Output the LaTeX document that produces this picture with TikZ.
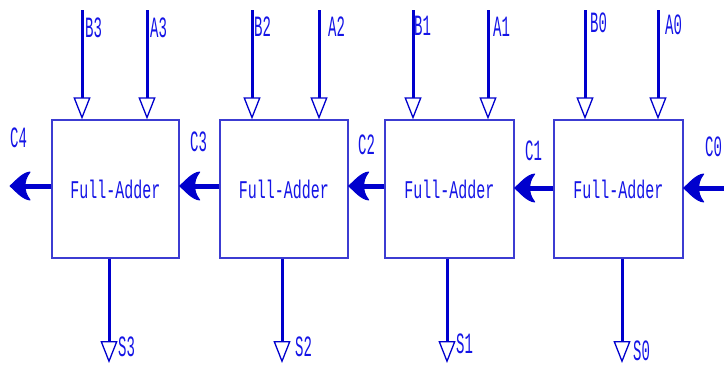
\documentclass[tikz,border=0pt]{standalone}
\usepackage{fontspec}
\newfontfamily\fafont{Liberation Mono}
\usetikzlibrary{arrows.meta}
\definecolor{linecol}{RGB}{0,0,205}
\definecolor{boxcol}{RGB}{60,60,210}
\definecolor{txtcol}{RGB}{20,20,230}
\tikzset{
  fabox/.style={draw=boxcol, line width=1.3pt, minimum width=127pt, minimum height=138pt, inner sep=0pt, text=txtcol, font=\fafont\fontsize{15}{15}\selectfont},
  inarrow/.style={draw=linecol, line width=3pt, -{Triangle[open, length=22pt, width=17pt, line width=1.3pt]}},
  carry/.style={draw=linecol, line width=5pt, shorten >=12pt},
  carryhead/.pic={\filldraw[linecol, line width=1pt, line join=round]
     (0,0) .. controls (6,-5) and (12,-13) .. (20,-14)
     .. controls (16,-9) and (15,-4) .. (15,0)
     .. controls (15,4) and (16,9) .. (20,14)
     .. controls (12,13) and (6,5) .. (0,0) -- cycle;},
  lbl/.style={text=txtcol, inner sep=0pt, font=\fafont\fontsize{14}{14}\selectfont},
}
\newcommand{\tall}[1]{\scalebox{1}[2.1]{#1}}
\newcommand{\fatext}{\scalebox{1}[1.7]{Full-Adder}}
\begin{document}
\begin{tikzpicture}[x=1pt,y=-1pt]
\useasboundingbox (0,0) rectangle (724,367);
% boxes
\node[fabox] (fa3) at (115.5,189) {\fatext};
\node[fabox, minimum width=128pt] (fa2) at (284,189) {\fatext};
\node[fabox, minimum width=129pt] (fa1) at (449.5,189) {\fatext};
\node[fabox, minimum width=129pt] (fa0) at (618.5,189) {\fatext};
% input top points
\coordinate (b3t) at (82,10);  \coordinate (a3t) at (147,10);
\coordinate (b2t) at (252,10); \coordinate (a2t) at (319,10);
\coordinate (b1t) at (413,10); \coordinate (a1t) at (488,10);
\coordinate (b0t) at (585,10); \coordinate (a0t) at (658,10);
\draw[inarrow] (b3t) -- (b3t |- fa3.north);
\draw[inarrow] (a3t) -- (a3t |- fa3.north);
\draw[inarrow] (b2t) -- (b2t |- fa2.north);
\draw[inarrow] (a2t) -- (a2t |- fa2.north);
\draw[inarrow] (b1t) -- (b1t |- fa1.north);
\draw[inarrow] (a1t) -- (a1t |- fa1.north);
\draw[inarrow] (b0t) -- (b0t |- fa0.north);
\draw[inarrow] (a0t) -- (a0t |- fa0.north);
% outputs
\coordinate (s3e) at (109,363); \coordinate (s2e) at (282,363);
\coordinate (s1e) at (447,363); \coordinate (s0e) at (622,363);
\draw[inarrow] (s3e |- fa3.south) -- (s3e);
\draw[inarrow] (s2e |- fa2.south) -- (s2e);
\draw[inarrow] (s1e |- fa1.south) -- (s1e);
\draw[inarrow] (s0e |- fa0.south) -- (s0e);
% carries
\coordinate (c4e) at (10,186);
\coordinate (c0s) at (726,188);
\draw[carry] (fa3.west |- c4e) -- (c4e) pic {carryhead};
\draw[carry] (fa2.west |- c4e) -- (fa3.east |- c4e) pic {carryhead};
\draw[carry] (fa1.west |- c4e) -- (fa2.east |- c4e) pic {carryhead};
\draw[carry] (fa0.west |- c0s) -- (fa1.east |- c0s) pic {carryhead};
\draw[carry] (c0s) -- (fa0.east |- c0s) pic {carryhead};
% labels
\node[lbl, anchor=south west] (lb3) at (85,38) {\tall{B3}};
\node[lbl, anchor=south west] (la3) at (150,38) {\tall{A3}};
\node[lbl, anchor=south west] (lb2) at (254,37) {\tall{B2}};
\node[lbl, anchor=south west] (la2) at (328,37) {\tall{A2}};
\node[lbl, anchor=south west] (lb1) at (414,36) {\tall{B1}};
\node[lbl, anchor=south west] (la1) at (493,37) {\tall{A1}};
\node[lbl, anchor=south west] (lb0) at (590,33) {\tall{B0}};
\node[lbl, anchor=south west] (la0) at (665,35) {\tall{A0}};
\node[lbl, anchor=south west] (ls3) at (118,357) {\tall{S3}};
\node[lbl, anchor=south west] (ls2) at (295,357) {\tall{S2}};
\node[lbl, anchor=south west] (ls1) at (456,354) {\tall{S1}};
\node[lbl, anchor=south west] (ls0) at (633,361) {\tall{S0}};
\node[lbl, anchor=south west] (lc4) at (10,148) {\tall{C4}};
\node[lbl, anchor=south west] (lc3) at (190,152) {\tall{C3}};
\node[lbl, anchor=south west] (lc2) at (358,155) {\tall{C2}};
\node[lbl, anchor=south west] (lc1) at (525,161) {\tall{C1}};
\node[lbl, anchor=south west] (lc0) at (705,157) {\tall{C0}};
\end{tikzpicture}
\end{document}
